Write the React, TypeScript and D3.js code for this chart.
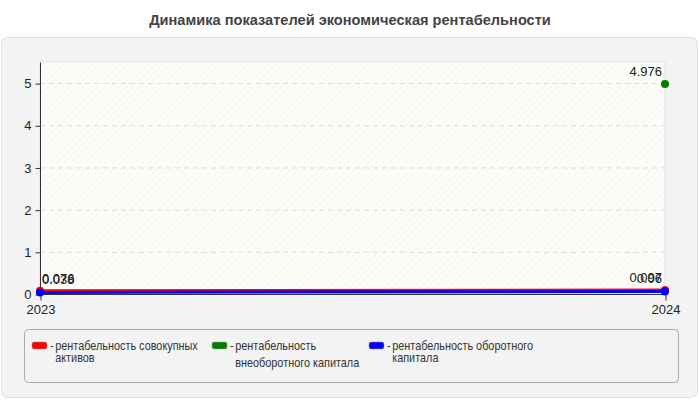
import React, {useEffect, useRef} from 'react';
import * as d3 from 'd3';

const years = ['2023', '2024'];
const totalAssets: (number | null)[] = [0.076, 0.097];
const fixedCapital: (number | null)[] = [null, 4.976];
const currentCapital: (number | null)[] = [0.038, 0.06];
const yTicks = [0, 1, 2, 3, 4, 5];

const seriesNames = [
  ['рентабельность совокупных', 'активов'],
  ['рентабельность', 'внеоборотного капитала'],
  ['рентабельность оборотного', 'капитала'],
];
const seriesColors = ['#ff0000', '#008000', '#0000ff'];

const App: React.FC = () => {
  const ref = useRef<SVGSVGElement>(null);

  useEffect(() => {
    const svg = d3.select(ref.current);
    svg.selectAll('*').remove();
    const font = '"Liberation Sans", Arial, sans-serif';

    const left = 40, right = 665, top = 62, bottom = 294;
    const x = d3.scalePoint().domain(years).range([left, right]);
    const y = d3.scaleLinear().domain([0, 5.5]).range([bottom, top]);

    // title
    svg.append('text')
      .attr('x', 350).attr('y', 25)
      .attr('text-anchor', 'middle')
      .attr('font-family', font).attr('font-size', 14.6).attr('font-weight', 'bold')
      .attr('fill', '#444')
      .text('Динамика показателей экономическая рентабельности');

    // outer panel
    svg.append('rect')
      .attr('x', 1.5).attr('y', 37.5).attr('width', 696).attr('height', 360).attr('rx', 6)
      .attr('fill', '#f3f3f3').attr('stroke', '#e0e0e0');

    // hatch pattern
    const defs = svg.append('defs');
    const pat = defs.append('pattern')
      .attr('id', 'hatch').attr('width', 5).attr('height', 5)
      .attr('patternUnits', 'userSpaceOnUse')
      .attr('patternTransform', 'rotate(45)');
    pat.append('rect').attr('width', 5).attr('height', 5).attr('fill', '#fdfdfa');
    pat.append('line').attr('x1', 0).attr('y1', 0).attr('x2', 0).attr('y2', 5)
      .attr('stroke', '#f0f0ee').attr('stroke-width', 1.2);

    svg.append('rect')
      .attr('x', left).attr('y', top).attr('width', right - left).attr('height', bottom - top)
      .attr('fill', 'url(#hatch)').attr('stroke', '#e2e2e2');

    // grid
    svg.append('g').selectAll('line').data(yTicks.filter(t => t > 0)).join('line')
      .attr('x1', left).attr('x2', right)
      .attr('y1', d => y(d) + 0.5).attr('y2', d => y(d) + 0.5)
      .attr('stroke', '#dcdcdc').attr('stroke-dasharray', '5,4');

    // y axis
    const yAxis = svg.append('g').attr('transform', `translate(${left + 0.5},0.5)`)
      .call(d3.axisLeft(y).tickValues(yTicks).tickFormat(d3.format('d')).tickSize(5).tickPadding(4));
    yAxis.select('.domain').attr('stroke', '#333').attr('d', `M-0,${top}V${bottom}`);
    yAxis.selectAll('line').attr('stroke', '#333');
    yAxis.selectAll('text').attr('font-family', font).attr('font-size', 13).attr('fill', '#222');

    // x axis
    const xAxis = svg.append('g').attr('transform', `translate(0.5,${bottom + 0.5})`)
      .call(d3.axisBottom(x).tickSize(6).tickPadding(4));
    xAxis.select('.domain').attr('stroke', '#333').attr('d', `M${left},0H${right}`);
    xAxis.selectAll('line').attr('stroke', '#333');
    xAxis.selectAll('text').attr('font-family', font).attr('font-size', 13).attr('fill', '#222');

    // series
    const all = [totalAssets, fixedCapital, currentCapital];
    const line = d3.line<number | null>()
      .defined(d => d !== null)
      .x((_, i) => x(years[i])!)
      .y(d => y(d as number));

    all.forEach((vals, s) => {
      svg.append('path').datum(vals)
        .attr('d', line)
        .attr('fill', 'none').attr('stroke', seriesColors[s]).attr('stroke-width', 3);
    });
    all.forEach((vals, s) => {
      vals.forEach((v, i) => {
        if (v === null) return;
        svg.append('circle')
          .attr('cx', x(years[i])!).attr('cy', y(v)).attr('r', 4)
          .attr('fill', seriesColors[s]);
      });
    });
    all.forEach((vals) => {
      vals.forEach((v, i) => {
        if (v === null) return;
        const last = i === years.length - 1;
        svg.append('text')
          .attr('x', x(years[i])! + (last ? -3 : 2)).attr('y', y(v) - 8)
          .attr('text-anchor', last ? 'end' : 'start')
          .attr('font-family', font).attr('font-size', 13).attr('fill', '#222')
          .text(String(v));
      });
    });

    // legend
    svg.append('rect')
      .attr('x', 24.5).attr('y', 329.5).attr('width', 654).attr('height', 53).attr('rx', 4)
      .attr('fill', '#f3f3f3').attr('stroke', '#aaa');
    const legendX = [32, 212, 369];
    const secondLineY = [362, 367, 362];
    seriesNames.forEach((lines, s) => {
      const g = svg.append('g');
      g.append('rect')
        .attr('x', legendX[s]).attr('y', 342).attr('width', 15).attr('height', 7).attr('rx', 2)
        .attr('fill', seriesColors[s]).attr('stroke', '#999').attr('stroke-width', 0.5);
      const tg = g.append('g')
        .attr('transform', `translate(${legendX[s] + 18},0) scale(0.87,1)`);
      tg.append('text')
        .attr('x', 0).attr('y', 350)
        .attr('font-family', font).attr('font-size', 12.5).attr('fill', '#333')
        .text('-');
      lines.forEach((t, j) => {
        tg.append('text')
          .attr('x', 6).attr('y', j === 0 ? 350 : secondLineY[s])
          .attr('font-family', font).attr('font-size', 12.5).attr('fill', '#333')
          .text(t);
      });
    });
  }, []);

  return (
    <svg ref={ref} width={700} height={400}
         style={{position: 'absolute', left: 0, top: 0, background: '#fff'}}/>
  );
};

export default App;
